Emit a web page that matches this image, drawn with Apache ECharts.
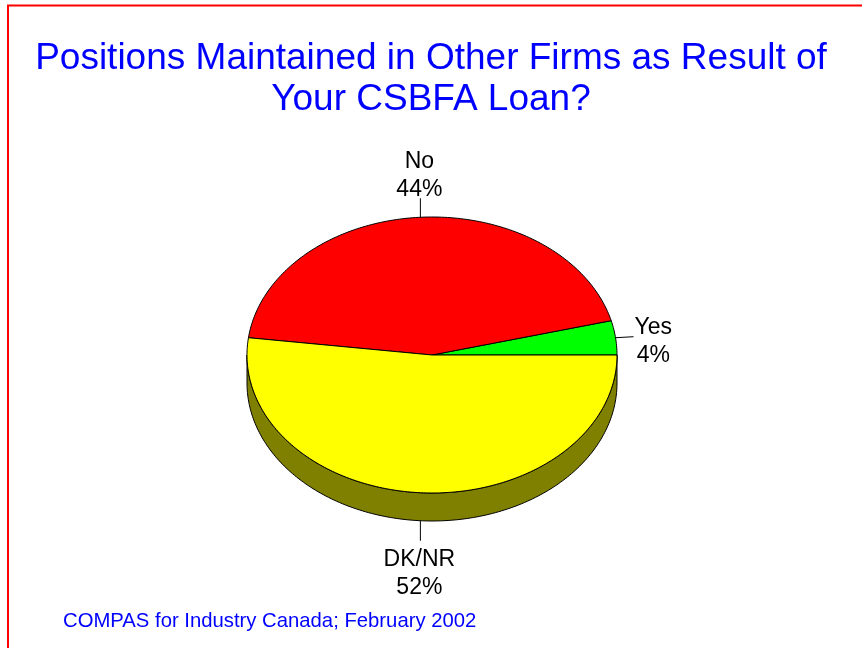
<!DOCTYPE html>
<html>
<head>
<meta charset="utf-8">
<script src="https://cdn.jsdelivr.net/npm/echarts@6/dist/echarts.min.js"></script>
<style>
  html, body { margin: 0; padding: 0; background: #fff; }
  #chart { width: 862px; height: 648px; }
</style>
</head>
<body>
<div id="chart"></div>
<script>
// Survey answers and their shares (percent)
const categories = ['Yes', 'No', 'DK/NR'];
const values = [4, 44, 52];

// Slice colours: top face and the darker rim
const topColors = ['#00FF00', '#FF0000', '#FFFF00'];
const sideColors = ['#008000', '#800000', '#808000'];

// Tilted-pie geometry
const CX = 432, CY = 355, RX = 185, RY = 138, DEPTH = 28;
const FONT = 'Liberation Sans, Arial, Helvetica, sans-serif';
const LABEL_SIZE = 23, LABEL_LH = 28;

const total = values.reduce((a, b) => a + b, 0);
const cumulative = values.map((v, i) => values.slice(0, i).reduce((a, b) => a + b, 0));

const measureCtx = document.createElement('canvas').getContext('2d');
measureCtx.font = LABEL_SIZE + 'px ' + FONT;
function textWidth(str) {
  return Math.max.apply(null, str.split('\n').map(s => measureCtx.measureText(s).width));
}

function pt(deg, dy) {
  const t = deg * Math.PI / 180;
  return [CX + RX * Math.cos(t), CY - RY * Math.sin(t) + (dy || 0)];
}

function arc(a0, a1, dy) {
  const pts = [];
  const n = Math.max(2, Math.ceil(Math.abs(a1 - a0)));
  for (let k = 0; k <= n; k++) pts.push(pt(a0 + (a1 - a0) * k / n, dy));
  return pts;
}

function renderItem(params, api) {
  const i = params.dataIndex;
  const v = api.value(0);
  const a0 = cumulative[i] / total * 360;
  const a1 = a0 + v / total * 360;
  const children = [];

  // rim (only the front half of the ellipse shows depth)
  const s0 = Math.max(a0, 180), s1 = Math.min(a1, 360);
  if (s1 > s0) {
    children.push({
      type: 'polygon',
      shape: { points: arc(s0, s1, 0).concat(arc(s1, s0, DEPTH)) },
      style: { fill: sideColors[i], stroke: '#000', lineWidth: 1 }
    });
  }

  // top face
  children.push({
    type: 'polygon',
    shape: { points: [[CX, CY]].concat(arc(a0, a1, 0)) },
    style: { fill: topColors[i], stroke: '#000', lineWidth: 1, lineJoin: 'round' }
  });

  // leader line and label
  const mid = (a0 + a1) / 2;
  const t = mid * Math.PI / 180;
  const c = Math.cos(t), s = Math.sin(t);
  const edge = pt(mid, s < 0 ? DEPTH : 0);
  const label = categories[i] + '\n' + v + '%';
  let end, text;
  if (Math.abs(c) > 0.7) {
    end = [edge[0] + Math.sign(c) * 18, edge[1] - 1];
    const half = textWidth(label) / 2;
    text = { x: end[0] + Math.sign(c) * (half + 1), y: end[1] + 5, verticalAlign: 'middle' };
  } else if (s > 0) {
    end = [edge[0], edge[1] - 19];
    text = { x: end[0] - 1, y: end[1] + 5, verticalAlign: 'bottom' };
  } else {
    end = [edge[0], edge[1] + 20];
    text = { x: end[0] - 1, y: end[1] + 5, verticalAlign: 'top' };
  }
  children.push({
    type: 'line',
    shape: { x1: edge[0], y1: edge[1], x2: end[0], y2: end[1] },
    style: { stroke: '#000', lineWidth: 1 }
  });
  children.push({
    type: 'text',
    x: text.x, y: text.y,
    style: {
      text: label, fill: '#000', fontSize: LABEL_SIZE, fontFamily: FONT,
      lineHeight: LABEL_LH, align: 'center', verticalAlign: text.verticalAlign
    }
  });

  return { type: 'group', children: children };
}

const chart = echarts.init(document.getElementById('chart'), null, { renderer: 'canvas' });
chart.setOption({
  animation: false,
  backgroundColor: '#fff',
  graphic: [
    {
      type: 'rect', silent: true,
      shape: { x: 8, y: 5.5, width: 900, height: 700 },
      style: { fill: 'none', stroke: '#FF0000', lineWidth: 2 }
    },
    {
      type: 'text', silent: true, x: 431, y: 38,
      style: {
        text: 'Positions Maintained in Other Firms as Result of\nYour CSBFA Loan?',
        fill: '#0000FF', fontSize: 37, fontFamily: FONT, lineHeight: 41,
        align: 'center', verticalAlign: 'top'
      }
    },
    {
      type: 'text', silent: true, x: 63, y: 611,
      style: {
        text: 'COMPAS for Industry Canada; February 2002',
        fill: '#0000FF', fontSize: 20.3, fontFamily: FONT,
        align: 'left', verticalAlign: 'top'
      }
    }
  ],
  series: [
    {
      type: 'custom',
      coordinateSystem: 'none',
      renderItem: renderItem,
      data: values.map((v, i) => ({ name: categories[i], value: v }))
    }
  ]
});
</script>
</body>
</html>
